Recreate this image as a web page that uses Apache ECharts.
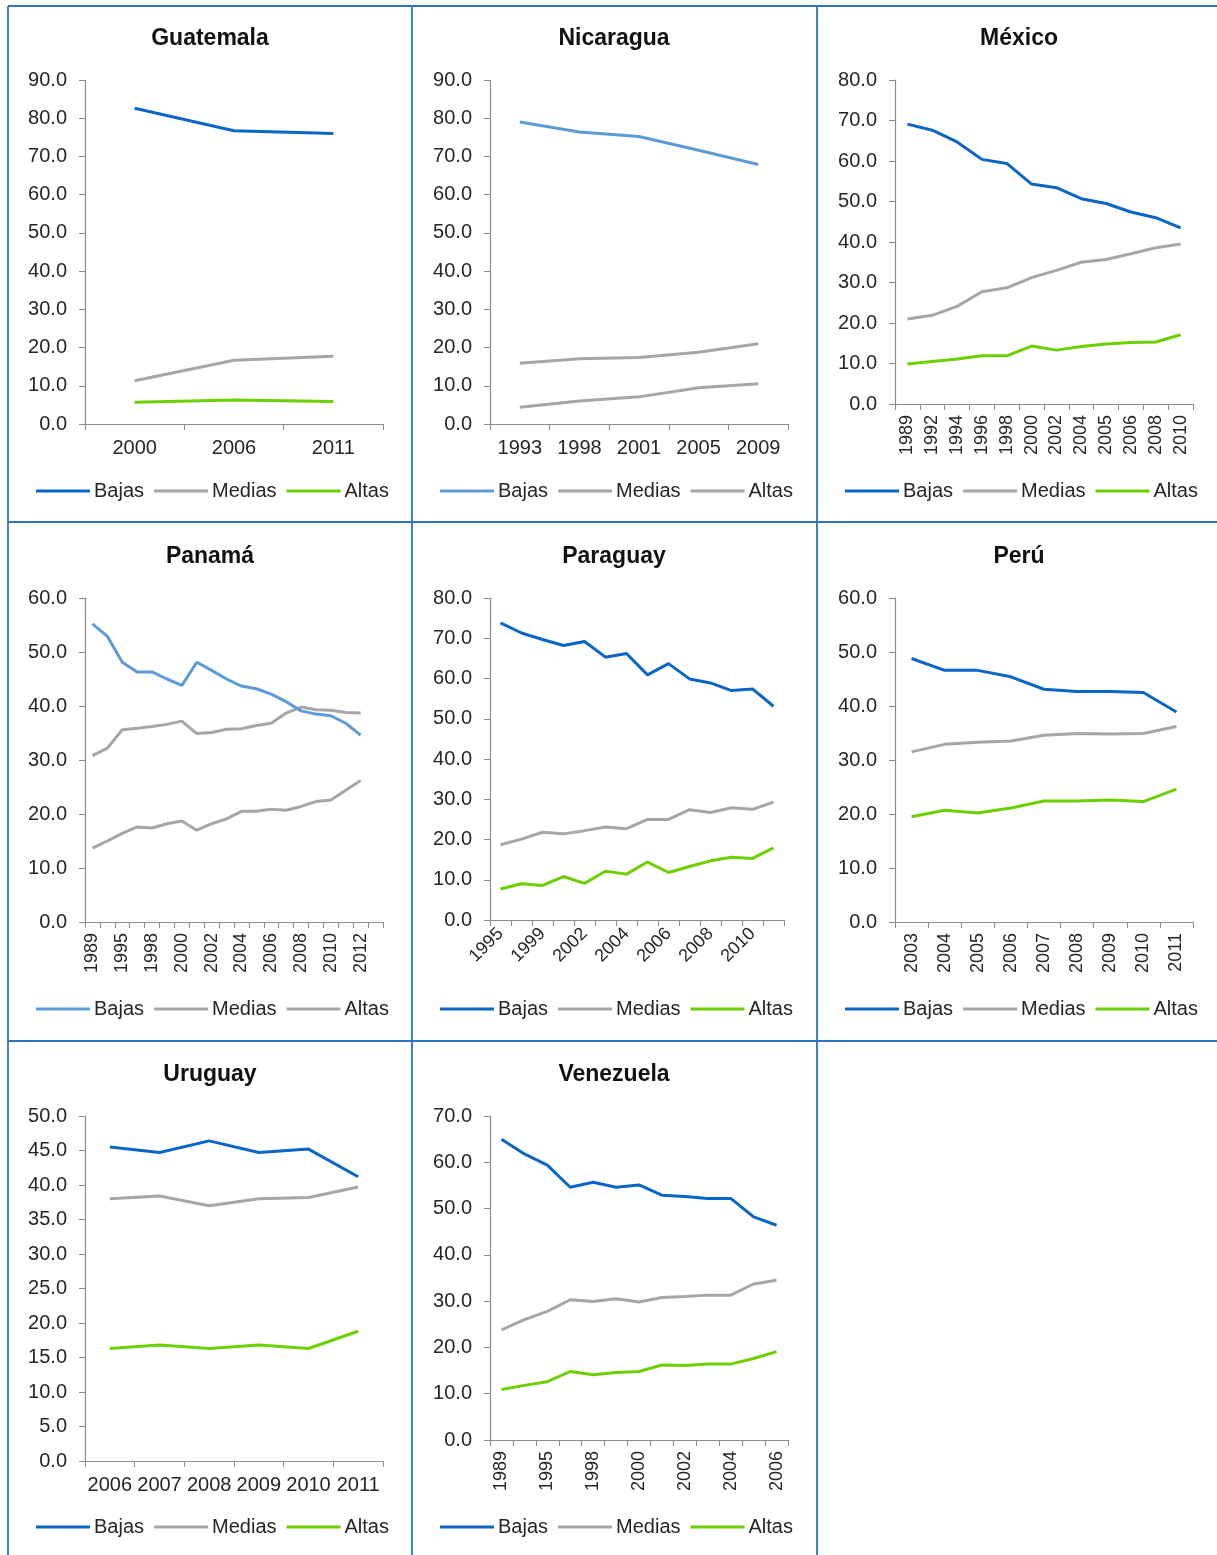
<!DOCTYPE html>
<html>
<head>
<meta charset="utf-8">
<script src="https://cdn.jsdelivr.net/npm/echarts@6/dist/echarts.min.js"></script>
<style>
html,body{margin:0;padding:0;background:#fff;}
#c{width:1217px;height:1555px;}
</style>
</head>
<body>
<div id="c"></div>
<script>
// ---------------- DATA ----------------
const seriesNames = ['Bajas', 'Medias', 'Altas'];

const guatemalaYears = ['2000', '2006', '2011'];
const guatemalaBajas = [82.6, 76.7, 76.0];
const guatemalaMedias = [11.3, 16.7, 17.7];
const guatemalaAltas = [5.7, 6.3, 5.9];

const nicaraguaYears = ['1993', '1998', '2001', '2005', '2009'];
const nicaraguaBajas = [79.0, 76.4, 75.2, 71.6, 67.9];
const nicaraguaMedias = [15.9, 17.1, 17.4, 18.8, 21.0];
const nicaraguaAltas = [4.4, 6.0, 7.1, 9.5, 10.5];

const mexicoYears = ['1989', '1992', '1994', '1996', '1998', '2000', '2002', '2004', '2005', '2006', '2008', '2010'];
const mexicoBajas = [69.1, 67.6, 64.7, 60.4, 59.4, 54.3, 53.4, 50.7, 49.5, 47.4, 46.0, 43.5];
const mexicoMedias = [21.0, 21.9, 24.1, 27.7, 28.7, 31.2, 33.0, 35.0, 35.7, 37.1, 38.6, 39.5];
const mexicoAltas = [9.9, 10.5, 11.1, 11.9, 11.9, 14.3, 13.3, 14.2, 14.8, 15.2, 15.3, 17.1];

const panamaYears = ['1989', '1991', '1995', '1997', '1998', '1999', '2000', '2001', '2002', '2003', '2004', '2005', '2006', '2007', '2008', '2009', '2010', '2011', '2012', ''];
const panamaBajas = [55.2, 52.9, 48.1, 46.3, 46.3, 45.0, 43.8, 48.1, 46.6, 45.0, 43.7, 43.2, 42.2, 40.8, 39.1, 38.5, 38.2, 36.8, 34.6];
const panamaMedias = [30.8, 32.2, 35.6, 35.9, 36.2, 36.6, 37.2, 34.9, 35.1, 35.7, 35.8, 36.4, 36.8, 38.7, 39.8, 39.3, 39.2, 38.8, 38.7];
const panamaAltas = [13.7, 15.0, 16.4, 17.6, 17.4, 18.2, 18.7, 17.0, 18.2, 19.1, 20.5, 20.5, 20.9, 20.7, 21.4, 22.3, 22.6, 24.4, 26.2];

const paraguayYears = ['1995', '1997', '1999', '2001', '2002', '2003', '2004', '2005', '2006', '2007', '2008', '2009', '2010', '2011'];
const paraguayBajas = [73.8, 71.3, 69.7, 68.2, 69.2, 65.3, 66.2, 60.9, 63.7, 59.9, 58.9, 57.0, 57.4, 53.1];
const paraguayMedias = [18.7, 20.1, 21.8, 21.4, 22.2, 23.1, 22.7, 25.0, 25.0, 27.4, 26.7, 27.9, 27.5, 29.3];
const paraguayAltas = [7.7, 9.0, 8.6, 10.8, 9.1, 12.1, 11.4, 14.4, 11.8, 13.3, 14.7, 15.6, 15.3, 17.9];

const peruYears = ['2003', '2004', '2005', '2006', '2007', '2008', '2009', '2010', '2011'];
const peruBajas = [48.8, 46.6, 46.6, 45.4, 43.1, 42.7, 42.7, 42.5, 38.9];
const peruMedias = [31.5, 32.9, 33.3, 33.5, 34.6, 34.9, 34.8, 34.9, 36.2];
const peruAltas = [19.5, 20.7, 20.2, 21.1, 22.4, 22.4, 22.6, 22.3, 24.6];

const uruguayYears = ['2006', '2007', '2008', '2009', '2010', '2011'];
const uruguayBajas = [45.5, 44.7, 46.4, 44.7, 45.2, 41.2];
const uruguayMedias = [38.0, 38.4, 37.0, 38.0, 38.2, 39.7];
const uruguayAltas = [16.3, 16.8, 16.3, 16.8, 16.3, 18.8];

const venezuelaYears = ['1989', '1992', '1995', '1997', '1998', '1999', '2000', '2001', '2002', '2003', '2004', '2005', '2006'];
const venezuelaBajas = [65.0, 61.8, 59.4, 54.6, 55.7, 54.6, 55.1, 52.9, 52.6, 52.2, 52.2, 48.2, 46.4];
const venezuelaMedias = [23.8, 26.0, 27.8, 30.3, 29.9, 30.5, 29.8, 30.8, 31.0, 31.3, 31.3, 33.7, 34.5];
const venezuelaAltas = [10.9, 11.8, 12.6, 14.8, 14.1, 14.6, 14.8, 16.2, 16.1, 16.4, 16.4, 17.6, 19.1];

// ---------------- STYLE / LAYOUT ----------------
const C_DARK = '#0a66c6';
const C_LIGHT = '#5b9bd8';
const C_GRAY = '#a6a6a6';
const C_GREEN = '#6ccf00';
const FONT = 'Liberation Sans, Arial, sans-serif';
const TXT = '#262626';
const AXIS = '#8c8c8c';

const panels = [
  {title: 'Guatemala', years: guatemalaYears, data: [guatemalaBajas, guatemalaMedias, guatemalaAltas], colors: [C_DARK, C_GRAY, C_GREEN],
   grid: {left: 85, top: 80, width: 298, height: 344}, max: 90, interval: 10, rotate: 0, labInterval: 0,
   cx: 210, cy: 39, lx: 36, ly: 491},
  {title: 'Nicaragua', years: nicaraguaYears, data: [nicaraguaBajas, nicaraguaMedias, nicaraguaAltas], colors: [C_LIGHT, C_GRAY, C_GRAY],
   grid: {left: 490, top: 80, width: 298, height: 344}, max: 90, interval: 10, rotate: 0, labInterval: 0,
   cx: 614, cy: 39, lx: 440, ly: 491},
  {title: 'México', years: mexicoYears, data: [mexicoBajas, mexicoMedias, mexicoAltas], colors: [C_DARK, C_GRAY, C_GREEN],
   grid: {left: 895, top: 80, width: 298, height: 324}, max: 80, interval: 10, rotate: 90, labInterval: 0,
   cx: 1019, cy: 39, lx: 845, ly: 491},
  {title: 'Panamá', years: panamaYears, data: [panamaBajas, panamaMedias, panamaAltas], colors: [C_LIGHT, C_GRAY, C_GRAY],
   grid: {left: 85, top: 598, width: 298, height: 324}, max: 60, interval: 10, rotate: 90, labInterval: 1,
   cx: 210, cy: 557, lx: 36, ly: 1009},
  {title: 'Paraguay', years: paraguayYears, data: [paraguayBajas, paraguayMedias, paraguayAltas], colors: [C_DARK, C_GRAY, C_GREEN],
   grid: {left: 490, top: 598, width: 294, height: 322}, max: 80, interval: 10, rotate: 45, labInterval: 1,
   cx: 614, cy: 557, lx: 440, ly: 1009},
  {title: 'Perú', years: peruYears, data: [peruBajas, peruMedias, peruAltas], colors: [C_DARK, C_GRAY, C_GREEN],
   grid: {left: 895, top: 598, width: 298, height: 324}, max: 60, interval: 10, rotate: 90, labInterval: 0,
   cx: 1019, cy: 557, lx: 845, ly: 1009},
  {title: 'Uruguay', years: uruguayYears, data: [uruguayBajas, uruguayMedias, uruguayAltas], colors: [C_DARK, C_GRAY, C_GREEN],
   grid: {left: 85, top: 1116, width: 298, height: 345}, max: 50, interval: 5, rotate: 0, labInterval: 0,
   cx: 210, cy: 1075, lx: 36, ly: 1527},
  {title: 'Venezuela', years: venezuelaYears, data: [venezuelaBajas, venezuelaMedias, venezuelaAltas], colors: [C_DARK, C_GRAY, C_GREEN],
   grid: {left: 490, top: 1116, width: 298, height: 324}, max: 70, interval: 10, rotate: 90, labInterval: 1,
   cx: 614, cy: 1075, lx: 440, ly: 1527}
];

const option = {
  animation: false,
  backgroundColor: '#fff',
  title: [], legend: [], grid: [], xAxis: [], yAxis: [], series: [],
  graphic: []
};

panels.forEach((p, i) => {
  option.title.push({
    text: p.title, left: p.cx, top: p.cy - 12, textAlign: 'center', padding: 0,
    textStyle: {fontFamily: FONT, fontSize: 23, fontWeight: 'bold', color: '#111', lineHeight: 24}
  });
  option.grid.push(Object.assign({containLabel: false}, p.grid));
  option.xAxis.push({
    type: 'category', gridIndex: i, data: p.years, boundaryGap: true,
    axisLine: {lineStyle: {color: AXIS, width: 1.2}},
    axisTick: {show: true, length: 6, alignWithLabel: false, interval: 0, lineStyle: {color: AXIS}},
    axisLabel: {
      interval: p.labInterval, rotate: p.rotate, margin: p.rotate ? 11 : 14,
      fontFamily: FONT, fontSize: p.rotate ? 18 : 20, color: TXT
    },
    splitLine: {show: false}
  });
  option.yAxis.push({
    type: 'value', gridIndex: i, min: 0, max: p.max, interval: p.interval,
    axisLine: {show: true, lineStyle: {color: AXIS, width: 1.2}},
    axisTick: {show: true, length: 6, lineStyle: {color: AXIS}},
    splitLine: {show: false},
    axisLabel: {
      fontFamily: FONT, fontSize: 20, color: TXT, margin: 18,
      formatter: v => v.toFixed(1)
    }
  });
  const legendNames = [];
  seriesNames.forEach((nm, k) => {
    const sname = nm + '#' + i;
    legendNames.push(sname);
    option.series.push({
      name: sname, type: 'line', xAxisIndex: i, yAxisIndex: i,
      data: p.data[k], symbol: 'none', smooth: false,
      lineStyle: {color: p.colors[k], width: 3},
      itemStyle: {color: p.colors[k]},
      z: 10 - k
    });
  });
  option.legend.push({
    data: legendNames, left: p.lx, top: p.ly - 10, orient: 'horizontal', padding: 0,
    itemWidth: 54, itemHeight: 14, itemGap: 10,
    icon: 'path://M0,6 L54,6 L54,9 L0,9 Z',
    formatter: n => n.split('#')[0],
    textStyle: {fontFamily: FONT, fontSize: 20, color: TXT, padding: [0, 0, 0, -1]},
    selectedMode: false
  });
});

// cell borders
const B = '#2e73c6';
[[8, 6, 8, 1555], [412, 6, 412, 1555], [817, 6, 817, 1555],
 [8, 6, 1217, 6], [8, 522, 1217, 522], [8, 1041, 1217, 1041]].forEach(s => {
  option.graphic.push({type: 'line', shape: {x1: s[0], y1: s[1], x2: s[2], y2: s[3]},
    style: {stroke: B, lineWidth: 1.8}, silent: true});
});

const chart = echarts.init(document.getElementById('c'), null, {renderer: 'canvas'});
chart.setOption(option);
</script>
</body>
</html>
